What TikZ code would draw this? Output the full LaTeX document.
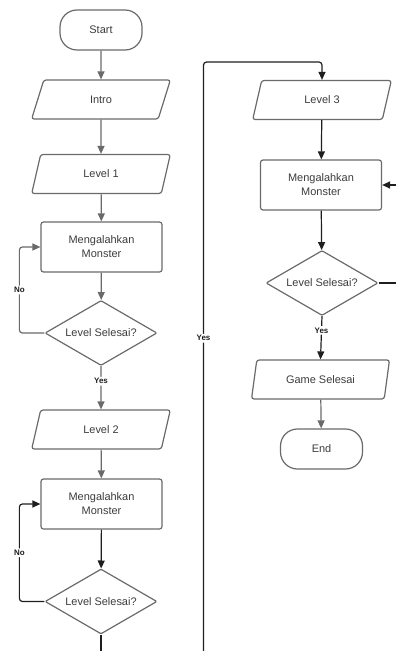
\documentclass[tikz,border=0pt]{standalone}
\usepackage{fontspec}
\setmainfont{Liberation Sans}
\usetikzlibrary{shapes.geometric,arrows.meta}
\definecolor{lnk}{HTML}{6A6A6A}
\definecolor{dk}{HTML}{1E1E1E}
\definecolor{txt}{HTML}{3C3C3C}
\begin{document}
\begin{tikzpicture}[x=1bp,y=-1bp,
  base/.style={draw=lnk, line width=1.2bp, text=txt, font=\fontsize{11}{14}\selectfont, align=center},
  term/.style={base, rectangle, rounded corners=17bp, minimum width=82bp, minimum height=40bp},
  io/.style={base, trapezium, trapezium left angle=78, trapezium right angle=102, trapezium stretches=true, minimum width=139bp, minimum height=39bp, rounded corners=2.5bp},
  proc/.style={base, rectangle, rounded corners=2.5bp, minimum width=121bp, minimum height=50bp},
  dec/.style={base, diamond, aspect=1.72, minimum width=112bp, minimum height=65bp, inner sep=0pt, rounded corners=1bp},
  arrG/.style={draw=lnk, line width=1.2bp, rounded corners=3bp, -{Triangle[length=8bp,width=7bp]}},
  arrK/.style={draw=dk, line width=1.2bp, rounded corners=3bp, -{Triangle[length=8bp,width=7bp]}},
  lnK/.style={draw=dk, line width=1.2bp, rounded corners=3bp},
  lbl/.style={font=\bfseries\fontsize{8}{9}\selectfont, text=dk, fill=white, inner sep=1.5bp}
]
\useasboundingbox (0,0) rectangle (396,651);

% left column
\node[term] (start) at (101,30) {Start};
\node[io] (intro) at (101,99.5) {Intro};
\node[io] (lvl1) at (101,174) {Level 1};
\node[proc] (m1) at (101.5,247) {Mengalahkan\\Monster};
\node[dec] (d1) at (101,333) {Level Selesai?};
\node[io] (lvl2) at (101,429.5) {Level 2};
\node[proc] (m2) at (101.5,504) {Mengalahkan\\Monster};
\node[dec] (d2) at (101,601.5) {Level Selesai?};
\coordinate (b2) at (101,651);

% long yes connector
\coordinate (ybot) at (203.5,651);
\coordinate (ytop) at (203.5,62);

% right column
\node[io] (lvl3) at (322,100) {Level 3};
\node[proc] (m3) at (321,185) {Mengalahkan\\Monster};
\coordinate (rin) at (396,185);
\node[dec] (d3) at (322,283) {Level Selesai?};
\coordinate (rout) at (396,283);
\node[io] (gs) at (320.5,379.5) {Game Selesai};
\node[term] (endn) at (321.5,449) {End};

% connectors left
\draw[arrG] (start) -- (intro);
\draw[arrG] (intro) -- (lvl1);
\draw[arrG] (lvl1) -- (m1);
\draw[arrG] (m1) -- (d1);
\draw[arrG] (d1.west) -- ++(-25,0) |- node[pos=0.25, lbl]{No} (m1.west);
\draw[arrG] (d1.south) -- node[pos=0.35, lbl]{Yes} (lvl2.north);
\draw[arrG] (lvl2) -- (m2);
\draw[arrK] (m2) -- (d2);
\draw[arrK] (d2.west) -- ++(-25,0) |- node[pos=0.25, lbl]{No} (m2.west);
\draw[lnK] (d2.south) -- (b2);

% long yes
\draw[arrK] (ybot) -- node[pos=0.531, lbl]{Yes} (ytop) -| (lvl3.north);

% connectors right
\draw[arrK] (lvl3) -- (m3);
\draw[arrK] (rin) -- (m3.east);
\draw[arrK] (m3) -- (d3);
\draw[lnK] (d3.east) -- (rout);
\draw[arrK] (d3.south) -- node[pos=0.33, lbl]{Yes} (gs.north);
\draw[arrG] (gs) -- (endn);
\end{tikzpicture}
\end{document}
